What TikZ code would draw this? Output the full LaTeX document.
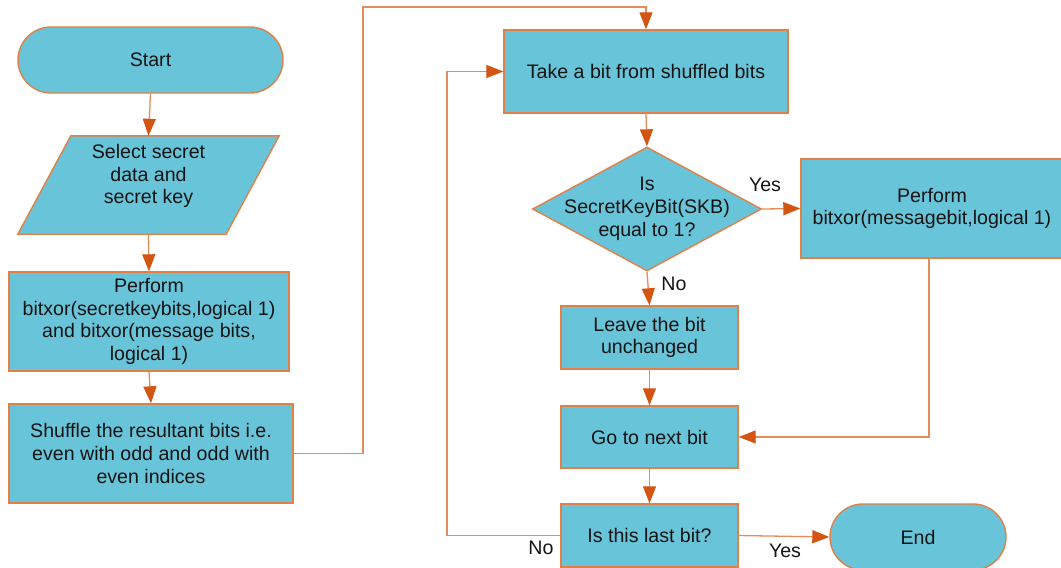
\documentclass[tikz,border=0pt]{standalone}
\usepackage{fontspec}
\setmainfont{Liberation Sans}
\usetikzlibrary{arrows.meta,shapes.geometric,calc}
\definecolor{boxfill}{RGB}{104,196,217}
\definecolor{boxline}{RGB}{226,128,72}
\definecolor{conline}{RGB}{230,140,90}
\definecolor{tipc}{RGB}{212,84,20}
\definecolor{txtc}{RGB}{20,20,20}
\begin{document}
\begin{tikzpicture}[x=1pt,y=-1pt,
  font=\fontsize{19.6}{22.8}\selectfont,
  base/.style={draw=boxline,fill=boxfill,line width=1.4pt,inner sep=0pt,text=txtc},
  procbox/.style={base,rectangle,align=center},
  termbox/.style={base,rectangle,rounded corners=33pt,align=center},
  diam/.style={base,diamond},
  shapeline/.style={draw=boxline,fill=boxfill,line width=1.4pt},
  txt/.style={align=center,text=txtc,inner sep=0pt},
  lbl/.style={text=txtc,inner sep=0pt},
  conn/.style={draw=conline,line width=1.3pt},
  arr/.style={conn,-{Triangle[length=17pt,width=13pt,color=tipc]}}
]
\useasboundingbox (0,0) rectangle (1061,568);

% left column
\node[termbox,minimum width=265pt,minimum height=66pt] (start) at (150.5,60) {Start};
\node[rectangle,inner sep=0pt,minimum width=261pt,minimum height=98pt] (sel) at (148.5,185) {};
\draw[shapeline] ($(sel.north west)+(53,0)$) -- (sel.north east) -- ($(sel.south east)+(-53,0)$) -- (sel.south west) -- cycle;
\node[txt] (seltxt) at ($(sel.center)+(0,-9)$) {Select secret\\data and\\secret key};
\node[procbox,minimum width=280pt,minimum height=99pt] (perf1) at (149,321.5)
  {Perform\\bitxor(secretkeybits,logical 1)\\and bitxor(message bits,\\logical 1)};
\node[procbox,minimum width=284pt,minimum height=99pt] (shuf) at (151,453.5)
  {Shuffle the resultant bits i.e.\\even with odd and odd with\\even indices};

% right part
\node[procbox,minimum width=284pt,minimum height=83pt] (take) at (646,71.5) {Take a bit from shuffled bits};
\node[diam,minimum width=229pt,minimum height=124pt] (dia) at (647,209) {};
\node[txt] (diatxt) at (dia.center) {Is\\SecretKeyBit(SKB)\\equal to 1?};
\node[procbox,minimum width=262pt,minimum height=99pt] (perf2) at (932,208.5)
  {Perform\\bitxor(messagebit,logical 1)};
\node[procbox,minimum width=177pt,minimum height=63pt] (leave) at (649.5,337.5) {Leave the bit\\unchanged};
\node[procbox,minimum width=177pt,minimum height=62pt] (go) at (649.5,437) {Go to next bit};
\node[procbox,minimum width=177pt,minimum height=63pt] (last) at (649.5,535.5) {Is this last bit?};
\node[termbox,minimum width=176pt,minimum height=66pt] (end) at (918,537) {End};

% connectors
\coordinate (c1) at (363,7);
\coordinate (c2) at (447,71.5);
\draw[arr] (start.south) -- (sel.north);
\draw[arr] (sel.south) -- (perf1.north);
\draw[arr] (perf1.south) -- (shuf.north);
\draw[arr] (shuf.east) -| (c1) -| (take.north);
\draw[arr] (take.south) -- (dia.north);
\draw[arr] (dia.east) -- (perf2.west);
\draw[arr] (dia.south) -- (leave.north);
\draw[arr] (leave.south) -- (go.north);
\draw[arr] ($(perf2.south)+(-3,0)$) |- (go.east);
\draw[arr] (go.south) -- (last.north);
\draw[arr] (last.east) -- (end.west);
\draw[arr] (last.west) -| (c2) -- (take.west);

% labels
\node[lbl] (yes1) at (765,185) {Yes};
\node[lbl] (no1) at (674,284) {No};
\node[lbl] (yes2) at (785,551) {Yes};
\node[lbl] (no2) at (541,548) {No};
\end{tikzpicture}
\end{document}
